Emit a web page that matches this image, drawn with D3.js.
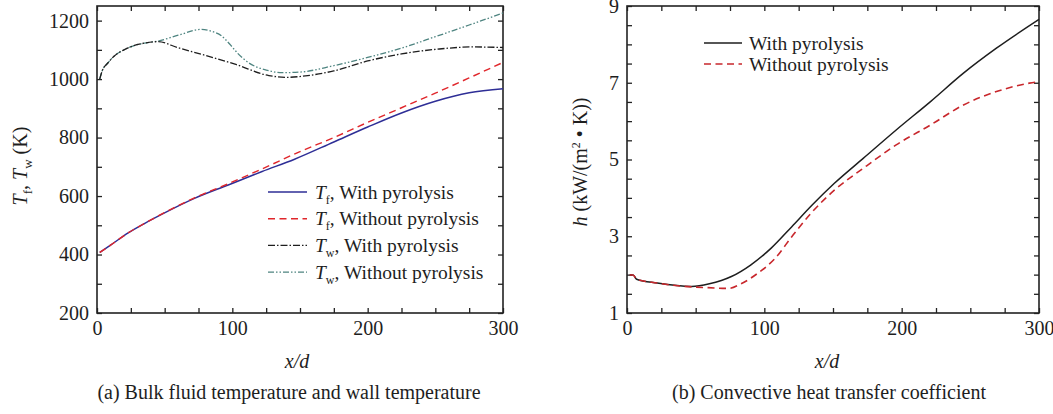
<!DOCTYPE html>
<html>
<head>
<meta charset="utf-8">
<script src="https://cdn.jsdelivr.net/npm/d3@7"></script>
<style>
body { margin: 0; background: #fff; }
svg text { font-family: "Liberation Serif", "Times New Roman", serif; fill: #1e1e1e; }
</style>
</head>
<body>
<svg id="chart" width="1053" height="414"></svg>
<script>
// panel (a): temperatures, [x/d, K]
var tfWith = [[2,407],[10,432],[23,474],[35,506],[51,545],[72,592],[97,638],[122,684],[146,726],
    [175,785],[200,836],[225,884],[250,924],[275,953],[300,967]];
var tfWithout = [[2,407],[10,432],[23,474],[35,506],[51,546],[72,594],[97,642],[122,693],[150,752],
    [175,800],[200,852],[225,902],[250,952],[275,1004],[300,1057]];
var twWith = [[2,1000],[4,1030],[8,1055],[13,1080],[20,1100],[27,1114],[35,1123],[45,1128],[60,1107],
    [77,1085],[102,1051],[127,1012],[140,1006],[154,1011],[175,1028],[200,1062],[225,1086],
    [253,1103],[278,1110],[300,1108]];
var twWithout = [[2,1000],[4,1030],[8,1055],[13,1080],[20,1100],[27,1114],[35,1123],[45,1130],[60,1150],
    [77,1170],[85,1163],[92,1148],[98,1120],[104,1088],[112,1056],[125,1031],[137,1022],[150,1024],
    [175,1046],[200,1074],[225,1106],[250,1145],[275,1185],[300,1226]];

// panel (b): heat transfer coefficient, [x/d, kW/(m2 K)]
var hWith = [[2,1.99],[4.5,1.99],[7,1.88],[22,1.78],[47,1.69],[60,1.76],[76,1.95],[90,2.25],[105,2.69],
    [120,3.25],[135,3.82],[151,4.38],[172,5.03],[196,5.77],[221,6.51],[245,7.25],[269,7.9],[300,8.65]];
var hWithout = [[2,1.99],[4.5,1.99],[7,1.88],[22,1.78],[47,1.68],[59,1.66],[74,1.64],[83,1.76],[95,2.03],
    [108,2.43],[120,2.99],[134,3.6],[151,4.2],[172,4.77],[196,5.38],[221,5.9],[245,6.42],[269,6.77],
    [293,6.99],[300,7.03]];

var xTicks = d3.range(0, 301, 25);
var yTicksA = d3.range(200, 1201, 100);
var yTicksB = d3.range(1, 9.01, 0.5);

var legendA = [
    {sym: 'T', sub: 'f', text: ', With pyrolysis'},
    {sym: 'T', sub: 'f', text: ', Without pyrolysis'},
    {sym: 'T', sub: 'w', text: ', With pyrolysis'},
    {sym: 'T', sub: 'w', text: ', Without pyrolysis'}
];
var legendB = ['With pyrolysis', 'Without pyrolysis'];

var svg = d3.select('#chart');

function drawFrame(x, y, yTicks, yLabelEvery, box) {
    var g = svg.append('g');
    var fmtX = function(d) { return d % 100 === 0 ? d : ''; };
    var fmtY = function(d) { return Math.abs((d - yTicks[0]) % yLabelEvery) < 1e-6 ? d : ''; };

    g.append('g').attr('transform', 'translate(0,' + box.bottom + ')')
        .call(d3.axisBottom(x).tickValues(xTicks).tickSize(-5).tickSizeOuter(0).tickPadding(8).tickFormat(fmtX));
    g.append('g').attr('transform', 'translate(0,' + box.top + ')')
        .call(d3.axisTop(x).tickValues(xTicks).tickSize(-5).tickSizeOuter(0).tickFormat(''));
    g.append('g').attr('transform', 'translate(' + box.left + ',0)')
        .call(d3.axisLeft(y).tickValues(yTicks).tickSize(-5).tickSizeOuter(0).tickPadding(8).tickFormat(fmtY));
    g.append('g').attr('transform', 'translate(' + box.right + ',0)')
        .call(d3.axisRight(y).tickValues(yTicks).tickSize(-5).tickSizeOuter(0).tickFormat(''));

    g.selectAll('.domain').remove();
    g.selectAll('.tick line').attr('stroke', '#222').attr('stroke-width', 1.3);
    g.selectAll('.tick text').attr('font-size', 20).attr('fill', '#1e1e1e')
        .style('font-family', '"Liberation Serif", "Times New Roman", serif');

    svg.append('rect')
        .attr('x', box.left).attr('y', box.top)
        .attr('width', box.right - box.left).attr('height', box.bottom - box.top)
        .attr('fill', 'none').attr('stroke', '#222').attr('stroke-width', 1.6);
}

function drawLine(x, y, data, color, dash, width) {
    var line = d3.line()
        .x(function(d) { return x(d[0]); })
        .y(function(d) { return y(d[1]); })
        .curve(d3.curveMonotoneX);
    svg.append('path')
        .datum(data)
        .attr('d', line)
        .attr('fill', 'none')
        .attr('stroke', color)
        .attr('stroke-width', width || 1.4)
        .attr('stroke-dasharray', dash);
}

// ---- panel (a)
var boxA = {left: 97, right: 503, top: 6, bottom: 313};
var xa = d3.scaleLinear().domain([0, 300]).range([boxA.left, boxA.right]);
var ya = d3.scaleLinear().domain([200, 1250]).range([boxA.bottom, boxA.top]);
drawFrame(xa, ya, yTicksA, 200, boxA);

var stylesA = [
    {data: tfWith, color: '#2e2e96', dash: null},
    {data: tfWithout, color: '#e0262b', dash: '7,4.5'},
    {data: twWith, color: '#1e1e1e', dash: '7,2,1.5,2'},
    {data: twWithout, color: '#4e8480', dash: '6,2,1.5,2,1.5,2'}
];
drawLine(xa, ya, twWithout, stylesA[3].color, stylesA[3].dash, 1.3);
drawLine(xa, ya, twWith, stylesA[2].color, stylesA[2].dash, 1.3);
drawLine(xa, ya, tfWith, stylesA[0].color, null, 1.5);
drawLine(xa, ya, tfWithout, stylesA[1].color, stylesA[1].dash, 1.4);

legendA.forEach(function(l, i) {
    var yy = 192 + i * 26.7;
    svg.append('line').attr('x1', 268).attr('x2', 307).attr('y1', yy).attr('y2', yy)
        .attr('stroke', stylesA[i].color).attr('stroke-width', i < 2 ? 1.5 : 1.3)
        .attr('stroke-dasharray', stylesA[i].dash);
    var t = svg.append('text').attr('x', 315).attr('y', yy + 6.5).attr('font-size', 19.5);
    t.append('tspan').attr('font-style', 'italic').text(l.sym);
    t.append('tspan').attr('font-size', 12).attr('dy', 5).text(l.sub);
    t.append('tspan').attr('dy', -5).text(l.text);
});

// axis titles (a)
svg.append('text').attr('x', 297).attr('y', 368).attr('text-anchor', 'middle')
    .attr('font-size', 20).attr('font-style', 'italic').text('x/d');
var yla = svg.append('text').attr('transform', 'translate(27,166) rotate(-90)')
    .attr('text-anchor', 'middle').attr('font-size', 20);
yla.append('tspan').attr('font-style', 'italic').text('T');
yla.append('tspan').attr('font-size', 13).attr('dy', 5).text('f');
yla.append('tspan').attr('dy', -5).text(', ');
yla.append('tspan').attr('font-style', 'italic').text('T');
yla.append('tspan').attr('font-size', 13).attr('dy', 5).text('w');
yla.append('tspan').attr('dy', -5).text(' (K)');
svg.append('text').attr('x', 289).attr('y', 399).attr('text-anchor', 'middle')
    .attr('font-size', 20).text('(a) Bulk fluid temperature and wall temperature');

// ---- panel (b)
var boxB = {left: 627, right: 1039, top: 6, bottom: 313};
var xb = d3.scaleLinear().domain([0, 300]).range([boxB.left, boxB.right]);
var yb = d3.scaleLinear().domain([1, 9]).range([boxB.bottom, boxB.top]);
drawFrame(xb, yb, yTicksB, 2, boxB);

var stylesB = [
    {color: '#1e1e1e', dash: null},
    {color: '#c8272c', dash: '7,4.5'}
];
drawLine(xb, yb, hWith, stylesB[0].color, null, 1.5);
drawLine(xb, yb, hWithout, stylesB[1].color, stylesB[1].dash, 1.6);

legendB.forEach(function(l, i) {
    var yy = 43 + i * 21;
    svg.append('line').attr('x1', 704).attr('x2', 742).attr('y1', yy).attr('y2', yy)
        .attr('stroke', stylesB[i].color).attr('stroke-width', 1.5)
        .attr('stroke-dasharray', stylesB[i].dash);
    svg.append('text').attr('x', 749).attr('y', yy + 6.5).attr('font-size', 19.5).text(l);
});

svg.append('text').attr('x', 827).attr('y', 368).attr('text-anchor', 'middle')
    .attr('font-size', 20).attr('font-style', 'italic').text('x/d');
var ylb = svg.append('text').attr('transform', 'translate(587,162) rotate(-90)')
    .attr('text-anchor', 'middle').attr('font-size', 20);
ylb.append('tspan').attr('font-style', 'italic').text('h');
ylb.append('tspan').text(' (kW/(m');
ylb.append('tspan').attr('font-size', 12).attr('dy', -7).text('2');
ylb.append('tspan').attr('dy', 7).text(' \u2022 K))');
svg.append('text').attr('x', 829).attr('y', 399).attr('text-anchor', 'middle')
    .attr('font-size', 20).text('(b) Convective heat transfer coefficient');
</script>
</body>
</html>
